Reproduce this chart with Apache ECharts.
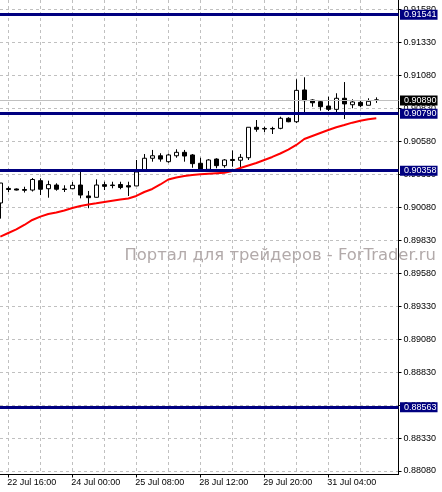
<!DOCTYPE html>
<html><head><meta charset="utf-8">
<script src="https://cdn.jsdelivr.net/npm/echarts@6/dist/echarts.min.js"></script>
<style>html,body{margin:0;padding:0;background:#fff}#c{width:442px;height:492px}</style>
</head><body><div id="c"></div>
<script>
// ---- data (H4 candles, left to right) ----
const opens = [0.90113,0.90223,0.90219,0.90215,0.90211,0.90282,0.90221,0.90249,0.90219,0.90221,
 0.90249,0.90166,0.90156,0.90252,0.90249,0.90253,0.90244,0.90242,0.90358,0.90452,
 0.90471,0.90426,0.90471,0.90497,0.90477,0.90414,0.90368,0.90446,0.90396,0.90443,
 0.90437,0.90456,0.90687,0.90678,0.90678,0.90679,0.90755,0.90729,0.90970,0.90894,
 0.90881,0.90848,0.90823,0.90907,0.90858,0.90876,0.90854,0.90895];
const closes = [0.90264,0.90215,0.90211,0.90209,0.90291,0.90217,0.90252,0.90217,0.90215,0.90247,
 0.90173,0.90153,0.90249,0.90239,0.90245,0.90230,0.90234,0.90348,0.90452,0.90471,
 0.90446,0.90477,0.90497,0.90469,0.90411,0.90368,0.90439,0.90396,0.90439,0.90435,
 0.90459,0.90687,0.90672,0.90674,0.90675,0.90755,0.90729,0.90967,0.90889,0.90873,
 0.90843,0.90823,0.90907,0.90864,0.90879,0.90851,0.90884,0.90890];
const lows = [0.89994,0.90196,0.90208,0.90192,0.90200,0.90173,0.90153,0.90206,0.90196,0.90217,
 0.90148,0.90073,0.90154,0.90211,0.90224,0.90217,0.90166,0.90242,0.90358,0.90426,
 0.90426,0.90418,0.90456,0.90426,0.90380,0.90350,0.90363,0.90376,0.90380,0.90388,
 0.90378,0.90439,0.90653,0.90651,0.90636,0.90672,0.90725,0.90719,0.90792,0.90843,
 0.90813,0.90810,0.90798,0.90750,0.90831,0.90839,0.90854,0.90872];
const highs = [0.90264,0.90238,0.90223,0.90236,0.90302,0.90300,0.90282,0.90262,0.90247,0.90272,
 0.90368,0.90204,0.90292,0.90274,0.90274,0.90274,0.90274,0.90439,0.90484,0.90515,
 0.90490,0.90487,0.90520,0.90515,0.90484,0.90456,0.90446,0.90452,0.90446,0.90511,
 0.90484,0.90687,0.90742,0.90691,0.90691,0.90767,0.90763,0.91051,0.91066,0.90899,
 0.90889,0.90919,0.90945,0.91030,0.90899,0.90892,0.90907,0.90914];
const movingAvg = [0.89857,0.89885,0.89912,0.89946,0.89984,0.90009,0.90029,0.90041,0.90056,0.90075,
 0.90090,0.90101,0.90110,0.90120,0.90130,0.90139,0.90147,0.90166,0.90196,0.90219,
 0.90253,0.90291,0.90306,0.90317,0.90325,0.90330,0.90334,0.90338,0.90342,0.90355,
 0.90378,0.90397,0.90416,0.90439,0.90462,0.90488,0.90518,0.90553,0.90598,0.90621,
 0.90644,0.90666,0.90687,0.90704,0.90722,0.90737,0.90748,0.90755];
const levels = [0.91541, 0.90790, 0.90358, 0.88563];
const bidPrice = 0.90890;
const priceTicks = [0.88080,0.88330,0.88580,0.88830,0.89080,0.89330,0.89580,0.89830,
 0.90080,0.90330,0.90580,0.90830,0.91080,0.91330,0.91580];
const timeLabels = ['22 Jul 16:00','24 Jul 00:00','25 Jul 08:00','28 Jul 12:00','29 Jul 20:00','31 Jul 04:00'];
const timeLabelIdx = [1, 9, 17, 25, 33, 41];
const timeGridIdx = [1,5,9,13,17,21,25,29,33,37,41,45];
const watermark = 'Портал для трейдеров - ForTrader.ru';

// ---- chart ----
const FONT = 'Liberation Sans';
const xMin = -0.0375, xMax = 49.775;
const yMin = 0.880535, yMax = 0.916523;
const candleData = opens.map((o, i) => [i, o, closes[i], lows[i], highs[i]]);
const maData = movingAvg.map((v, i) => [i, v]);
const gridDash = {color: '#c0c0c0', width: 1, type: [3, 3]};

const lineData = levels.map(v => ({
  yAxis: v,
  lineStyle: {color: '#000080', width: 3, type: 'solid'},
  label: {backgroundColor: '#000080'}
}));
lineData.push({
  yAxis: bidPrice,
  lineStyle: {color: '#c0c0c0', width: 1, type: 'solid'},
  label: {backgroundColor: '#000000'}
});

const chart = echarts.init(document.getElementById('c'), null, {renderer: 'canvas'});
chart.setOption({
  animation: false,
  backgroundColor: '#ffffff',
  grid: {left: 0, top: 0, right: 43.5, bottom: 17.5, containLabel: false},
  xAxis: [{
    type: 'value', min: xMin, max: xMax, position: 'bottom',
    axisLine: {show: true, onZero: false, lineStyle: {color: '#000', width: 1}},
    axisTick: {show: true, customValues: timeLabelIdx, length: 3, lineStyle: {color: '#000'}},
    axisLabel: {customValues: timeLabelIdx, formatter: v => timeLabels[timeLabelIdx.indexOf(v)],
      align: 'left', margin: 4, color: '#000', fontSize: 9, fontFamily: FONT, padding: [0,0,0,-1]},
    splitLine: {show: false}
  }, {
    type: 'value', min: xMin, max: xMax, position: 'top',
    axisLine: {show: false}, axisTick: {show: false, customValues: timeGridIdx},
    axisLabel: {show: false}, splitLine: {show: true, lineStyle: gridDash}
  }],
  yAxis: {
    type: 'value', position: 'right', min: yMin, max: yMax, scale: true,
    axisLine: {show: true, onZero: false, lineStyle: {color: '#000', width: 1}},
    axisTick: {show: true, customValues: priceTicks, length: 3, lineStyle: {color: '#000'}},
    axisLabel: {customValues: priceTicks, formatter: v => v.toFixed(5), margin: 5,
      color: '#000', fontSize: 9, fontFamily: FONT},
    splitLine: {show: true, lineStyle: gridDash}
  },
  graphic: [{
    type: 'text', x: 436, y: 256, z: 1,
    style: {text: watermark, fill: '#b2aaaa', font: '16.4px "DejaVu Sans"',
      textAlign: 'right', textVerticalAlign: 'middle', align: 'right', verticalAlign: 'middle'}
  }],
  series: [{
    type: 'candlestick', xAxisIndex: 0, data: candleData, encode: {x: 0, y: [1, 2, 3, 4]},
    barWidth: 4, z: 3,
    itemStyle: {color: '#ffffff', color0: '#000000', borderColor: '#000000', borderColor0: '#000000', borderWidth: 1}
  }, {
    type: 'line', xAxisIndex: 0, data: maData, showSymbol: false, symbol: 'none', z: 4,
    lineStyle: {color: '#ff0000', width: 2}
  }, {
    type: 'line', xAxisIndex: 0, data: [], z: 5,
    markLine: {
      silent: true, symbol: ['none', 'none'], animation: false, precision: 5,
      label: {show: true, position: 'end', formatter: p => Number(p.value).toFixed(5),
        color: '#fff', fontSize: 9, fontFamily: FONT, padding: [1, 1, 0, 4], distance: 1.5, lineHeight: 9},
      data: lineData
    }
  }]
});
</script></body></html>
